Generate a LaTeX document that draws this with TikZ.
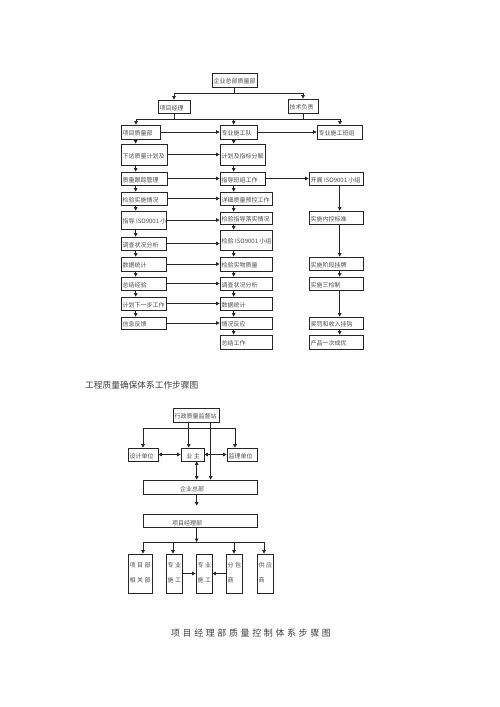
\documentclass[tikz,border=0pt]{standalone}
\usepackage{fontspec}
\setmainfont{Noto Sans CJK SC}
\usetikzlibrary{arrows.meta}
\tikzset{
  box/.style={draw=black!85, line width=0.7pt, inner sep=0pt, fill=white},
  txt/.style={font=\fontsize{6}{7}\selectfont, text=black!70, inner sep=0pt},
  conn/.style={draw=black!85, line width=0.7pt},
  arr/.style={conn, -{Triangle[length=3.5pt,width=3.5pt]}},
  darr/.style={conn, {Triangle[length=3.5pt,width=3.5pt]}-{Triangle[length=3.5pt,width=3.5pt]}},
  captxt/.style={text=black!75, inner sep=0pt}
}
\newcommand{\bx}[6]{%
  \node[box, minimum width={(#4)-(#2)}, minimum height={(#5)-(#3)}] (#1) at ({((#2)+(#4))/2},{((#3)+(#5))/2}) {};
  \node[txt, anchor=west] (#1t) at ({(#2)+1.5},{((#3)+(#5))/2+1.5}) {#6};}
\newcommand{\ebox}[5]{%
  \node[box, minimum width={(#4)-(#2)}, minimum height={(#5)-(#3)}] (#1) at ({((#2)+(#4))/2},{((#3)+(#5))/2}) {};}
\newcommand{\gp}{\hspace{2.6pt}}
\begin{document}
\begin{tikzpicture}[x=1pt,y=-1pt]
\useasboundingbox[fill=white] (0,0) rectangle (500,707);
% ---------- top diagram ----------
\bx{hq}{212}{73}{257}{87}{企业总部质量部}
\bx{pm}{158}{100}{190}{113}{项目经理}
\bx{tech}{288}{99}{318}{113}{技术负责}
\bx{pq}{121}{125}{160}{139}{项目质量部}
\bx{team}{220}{125}{257}{139}{专业施工队}
\bx{crew}{317}{125}{362}{139}{专业施工班组}
% left column
\bx{L1}{121}{144}{167}{165}{下达质量计划及}
\bx{L2}{121}{172}{167}{185}{质量跟踪管理}
\bx{L3}{121}{192}{167}{205}{检验实施情况}
\bx{L4}{121}{211}{166}{229}{指导 ISO9001 小}
\bx{L5}{121}{237}{166}{250}{调查状况分析}
\bx{L6}{121}{257}{166}{271}{数据统计}
\bx{L7}{121}{277}{166}{290}{总结经验}
\bx{L8}{121}{297}{166}{310}{计划下一步工作}
\bx{L9}{121}{317}{166}{329}{信息反馈}
% middle column
\bx{M1}{220}{144}{265}{165}{计划及指标分解}
\bx{M2}{220}{172}{265}{185}{指导班组工作}
\bx{M3}{220}{192}{272}{205}{详细质量预控工作}
\bx{M4}{220}{212}{272}{224}{检验指导落实情况}
\bx{M5}{220}{230}{272}{250}{检验 ISO9001 小组}
\bx{M6}{220}{257}{272}{271}{检验实物质量}
\bx{M7}{220}{277}{272}{290}{调查状况分析}
\bx{M8}{220}{297}{272}{310}{数据统计}
\bx{M9}{220}{317}{272}{329}{情况反应}
\bx{M10}{220}{335}{272}{349}{总结工作}
% right column
\bx{R1}{309}{172}{363}{185}{开展 ISO9001 小组}
\bx{R2}{309}{211}{363}{224}{实施内控标准}
\bx{R3}{309}{257}{363}{270}{实施阶段挂牌}
\bx{R4}{309}{277}{363}{290}{实施三检制}
\bx{R5}{309}{317}{363}{329}{奖罚和收入挂钩}
\bx{R6}{309}{335}{363}{349}{产品一次成优}
% top connectors
\coordinate (bus1L) at (174,93);
\coordinate (bus1R) at (303,93);
\draw[conn] (hq.south) -- (hq.south |- bus1L);
\draw[conn] (bus1L) -- (bus1R);
\draw[arr] (bus1L) -- (pm.north);
\draw[arr] (bus1R) -- (tech.north);
\coordinate (bus2L) at (136,119);
\coordinate (bus2R) at (340,119);
\draw[conn] (pm.south) -- (pm.south |- bus2L);
\draw[conn] (tech.south) -- (tech.south |- bus2L);
\draw[conn] (bus2L) -- (bus2R);
\draw[arr] (bus2L) -- (bus2L |- pq.north);
\draw[arr] ([xshift=14pt]team.north west |- bus2L) -- ([xshift=14pt]team.north west);
\draw[arr] (bus2R) -- (bus2R |- crew.north);
\draw[arr] (pq.east) -- (team.west);
\draw[arr] (team.east) -- (crew.west);
\foreach \a/\b in {pq/L1,L1/L2,L2/L3,L3/L4,L4/L5,L5/L6,L6/L7,L7/L8,L8/L9}
  \draw[arr] ([xshift=15pt]\a.south west) -- ([xshift=15pt]\b.north west);
\foreach \a/\b in {team/M1,M1/M2,M2/M3,M3/M4,M4/M5,M5/M6,M6/M7,M7/M8,M8/M9,M9/M10}
  \draw[arr] ([xshift=14pt]\a.south west) -- ([xshift=14pt]\b.north west);
\foreach \a/\b in {R1/R2,R2/R3,R3/R4,R4/R5,R5/R6}
  \draw[arr] ([xshift=31pt]\a.south west) -- ([xshift=31pt]\b.north west);
\foreach \i in {1,...,9}
  \draw[arr] (L\i.east) -- (L\i.east -| M\i.west);
\draw[arr] (M2.east) -- (R1.west);
% caption 1
\node[captxt, font=\fontsize{8.7}{10}\selectfont, anchor=west] (cap1) at (85,385) {工程质量确保体系工作步骤图};
% ---------- bottom diagram ----------
\bx{xz}{173}{408}{219}{422}{行政质量监督站}
\bx{sj}{128}{448}{158}{461}{设计单位}
\ebox{yz}{181}{448}{204}{461}
\node[txt] (yzt) at (193,456) {业\hspace{1.5pt}主};
\bx{jl}{227}{448}{257}{461}{监理单位}
\ebox{qy}{143}{480}{257}{494}
\node[txt] (qyt) at (192,489) {企业总部};
\ebox{xm}{143}{514}{257}{527}
\node[txt] (xmt) at (187,523) {项目经理部};
\ebox{bb1}{128}{554}{152}{593}
\ebox{bb2}{166}{554}{182}{593}
\ebox{bb3}{196}{554}{212}{593}
\ebox{bb4}{226}{554}{242}{593}
\ebox{bb5}{257}{554}{273}{593}
\node[txt, anchor=west] (bb1a) at (129.5,565) {项\hspace{1.5pt}目\hspace{1.5pt}部};
\node[txt, anchor=west] (bb1b) at (129.5,580) {相\hspace{1.5pt}关\hspace{1.5pt}部};
\node[txt, anchor=west] (bb2a) at (167.5,565) {专\hspace{1.5pt}业};
\node[txt, anchor=west] (bb2b) at (167.5,580) {施\hspace{1.5pt}工};
\node[txt, anchor=west] (bb3a) at (197.5,565) {专\hspace{1.5pt}业};
\node[txt, anchor=west] (bb3b) at (197.5,580) {施\hspace{1.5pt}工};
\node[txt, anchor=west] (bb4a) at (227.5,565) {分\hspace{1.5pt}包};
\node[txt, anchor=west] (bb4b) at (227.5,580) {商};
\node[txt, anchor=west] (bb5a) at (258.5,565) {供\hspace{1.5pt}应};
\node[txt, anchor=west] (bb5b) at (258.5,580) {商};
% bottom connectors
\coordinate (c1L) at (143,428);
\coordinate (c1R) at (235,428);
\draw[conn] (c1L) -- (c1R);
\draw[arr] (c1L) -- (c1L |- sj.north);
\draw[arr] (c1R) -- (c1R |- jl.north);
\draw[arr] ([xshift=16pt]xz.south west) -- ([xshift=16pt]xz.south west |- yz.north);
\draw[arr] ([xshift=38pt]xz.south west) -- ([xshift=38pt]xz.south west |- qy.north);
\draw[darr] (sj.east) -- (yz.west);
\draw[darr] (yz.east) -- (jl.west);
\draw[darr] ([xshift=16pt]yz.south west) -- ([xshift=16pt]yz.south west |- qy.north);
\draw[arr, shorten >=8pt] ([xshift=54pt]qy.south west) -- ([xshift=54pt]qy.south west |- xm.north);
\coordinate (c2L) at (143,542);
\coordinate (c2b) at (173,542);
\coordinate (c2d) at (234,542);
\coordinate (c2R) at (264,542);
\draw[arr] ([xshift=54pt]xm.south west) -- ([xshift=54pt]xm.south west |- c2L);
\draw[conn] (c2L) -- (c2R);
\draw[arr] (c2L) -- (c2L |- bb1.north);
\draw[arr] (c2b) -- (c2b |- bb2.north);
\draw[arr] (c2d) -- (c2d |- bb4.north);
\draw[arr] (c2R) -- (c2R |- bb5.north);
\draw[arr] (bb2.east) -- (bb3.west);
\draw[arr] (bb4.west) -- (bb3.east);
% caption 2
\node[captxt, font=\fontsize{9}{11}\selectfont] (cap2) at (251,633) {项\gp 目\gp 经\gp 理\gp 部\gp 质\gp 量\gp 控\gp 制\gp 体\gp 系\gp 步\gp 骤\gp 图};
\end{tikzpicture}
\end{document}
